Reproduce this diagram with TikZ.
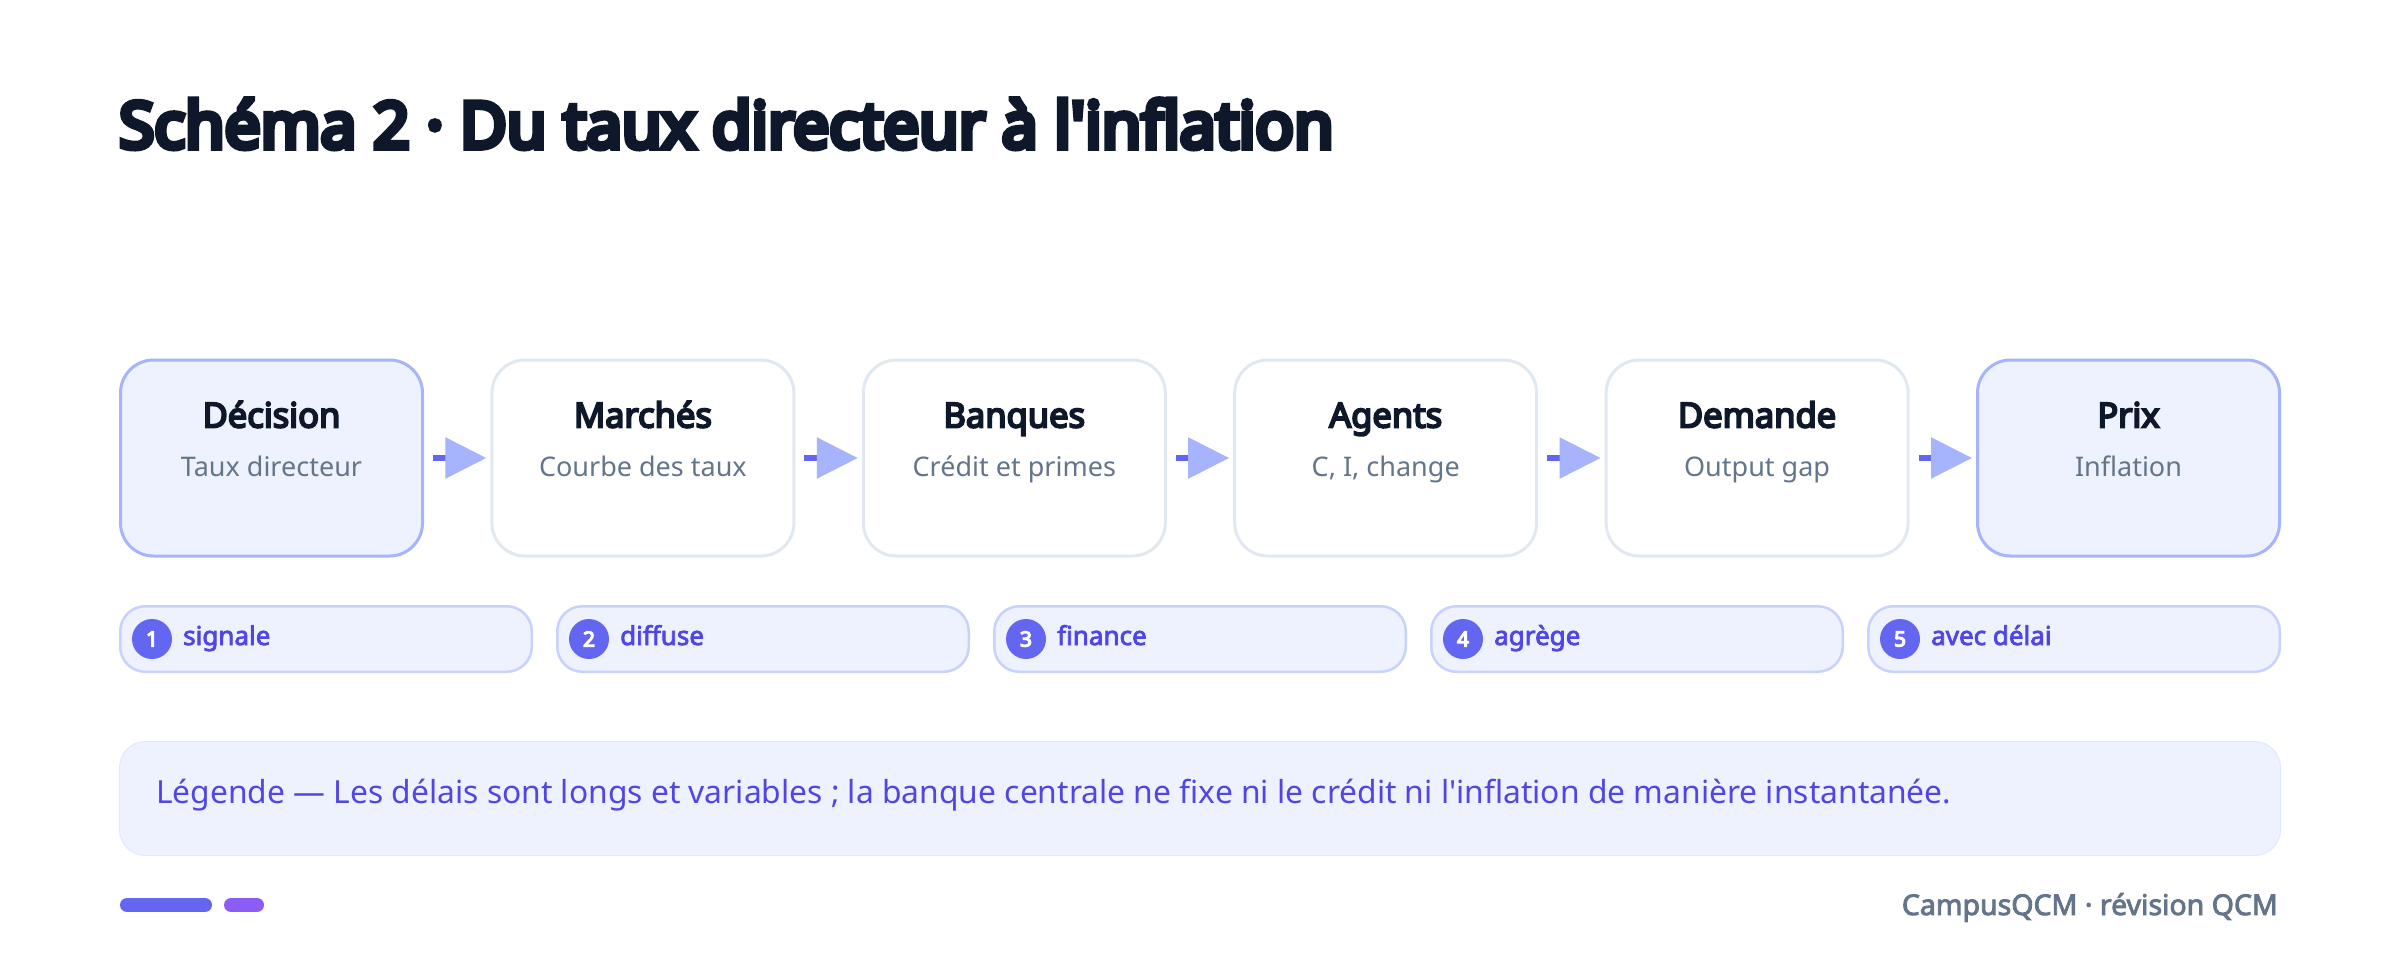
\documentclass[tikz,border=0pt]{standalone}
\usepackage{fontspec}
\setmainfont{Noto Sans}
\newfontfamily\bodyfont{Noto Sans}
\newfontfamily\headfont[FakeBold=9]{Noto Sans}
\newfontfamily\boldfont[FakeBold=5.5]{Noto Sans}
\newfontfamily\semifont[FakeBold=3]{Noto Sans}
\usetikzlibrary{positioning}
\usetikzlibrary{arrows.meta}
\definecolor{inkC}{HTML}{0F172A}
\definecolor{slateC}{HTML}{64748B}
\definecolor{indigoC}{HTML}{6366F1}
\definecolor{indigoTxt}{HTML}{4F46E5}
\definecolor{lavC}{HTML}{A5B4FC}
\definecolor{lavLight}{HTML}{C7D2FE}
\definecolor{paleC}{HTML}{EEF2FF}
\definecolor{grayC}{HTML}{E2E8F0}
\definecolor{purpleC}{HTML}{8B5CF6}
\tikzset{
  stage/.style={draw=grayC, line width=3pt, fill=white, rounded corners=33pt,
    minimum width=302pt, minimum height=196pt, inner sep=0pt},
  keystage/.style={stage, draw=lavC, fill=paleC},
  stagetitle/.style={font=\boldfont\fontsize{34.5}{40}\selectfont, text=inkC, inner sep=0pt},
  stagesub/.style={font=\bodyfont\fontsize{27}{32}\selectfont, text=slateC, inner sep=0pt},
  flow/.style={indigoC, line width=5.5pt, shorten >=4pt,
    -{Triangle[length=41pt,width=40pt,color=lavC]}},
  pill/.style={draw=lavLight, line width=2.5pt, fill=paleC, rounded corners=25pt,
    minimum width=411.5pt, minimum height=65.5pt, inner sep=0pt},
  num/.style={circle, fill=indigoC, minimum size=40pt, inner sep=0pt,
    font=\boldfont\fontsize{21}{24}\selectfont, text=white},
  pilltxt/.style={font=\semifont\fontsize{26}{30}\selectfont, text=indigoTxt, inner sep=0pt, anchor=base west}
}
\begin{document}
\begin{tikzpicture}[x=1pt,y=-1pt]
  \useasboundingbox[fill=white] (0,0) rectangle (2400,966);
  % title
  \node[anchor=base west, inner sep=0pt, text=inkC,
    font=\headfont\fontsize{64}{72}\selectfont] (title) at (119,148)
    {Schéma 2 · Du taux directeur à l'inflation};

  % chain of stages
  \node[keystage] (dec) at (271.5,458) {};
  \node[stage, right=66.4pt of dec] (mar) {};
  \node[stage, right=66.4pt of mar] (ban) {};
  \node[stage, right=66.4pt of ban] (age) {};
  \node[stage, right=66.4pt of age] (dem) {};
  \node[keystage, right=66.4pt of dem] (pri) {};

  \node[stagetitle, anchor=base] at ([yshift=-69pt]dec.north) {Décision};
  \node[stagesub, anchor=base] at ([yshift=-118pt]dec.north) {Taux directeur};
  \node[stagetitle, anchor=base] at ([yshift=-69pt]mar.north) {Marchés};
  \node[stagesub, anchor=base] at ([yshift=-118pt]mar.north) {Courbe des taux};
  \node[stagetitle, anchor=base] at ([yshift=-69pt]ban.north) {Banques};
  \node[stagesub, anchor=base] at ([yshift=-118pt]ban.north) {Crédit et primes};
  \node[stagetitle, anchor=base] at ([yshift=-69pt]age.north) {Agents};
  \node[stagesub, anchor=base] at ([yshift=-118pt]age.north) {C, I, change};
  \node[stagetitle, anchor=base] at ([yshift=-69pt]dem.north) {Demande};
  \node[stagesub, anchor=base] at ([yshift=-118pt]dem.north) {Output gap};
  \node[stagetitle, anchor=base] at ([yshift=-69pt]pri.north) {Prix};
  \node[stagesub, anchor=base] at ([yshift=-118pt]pri.north) {Inflation};

  \draw[flow] ([xshift=9pt]dec.east) -- (mar.west);
  \draw[flow] ([xshift=9pt]mar.east) -- (ban.west);
  \draw[flow] ([xshift=9pt]ban.east) -- (age.west);
  \draw[flow] ([xshift=9pt]age.east) -- (dem.west);
  \draw[flow] ([xshift=9pt]dem.east) -- (pri.west);

  % steps
  \node[pill] (p1) at (326,639) {};
  \node[pill, right=23pt of p1] (p2) {};
  \node[pill, right=23pt of p2] (p3) {};
  \node[pill, right=23pt of p3] (p4) {};
  \node[pill, right=23pt of p4] (p5) {};

  \node[num] (n1) at ([xshift=33pt]p1.west) {1};
  \node[num] (n2) at ([xshift=33pt]p2.west) {2};
  \node[num] (n3) at ([xshift=33pt]p3.west) {3};
  \node[num] (n4) at ([xshift=33pt]p4.west) {4};
  \node[num] (n5) at ([xshift=33pt]p5.west) {5};

  \node[pilltxt] at ([xshift=64pt,yshift=-6pt]p1.west) {signale};
  \node[pilltxt] at ([xshift=64pt,yshift=-6pt]p2.west) {diffuse};
  \node[pilltxt] at ([xshift=64pt,yshift=-6pt]p3.west) {finance};
  \node[pilltxt] at ([xshift=64pt,yshift=-6pt]p4.west) {agrège};
  \node[pilltxt] at ([xshift=64pt,yshift=-6pt]p5.west) {avec délai};

  % legend
  \node[fill=paleC, draw=paleC!70!lavLight, line width=1pt, rounded corners=26pt,
    minimum width=2161pt, minimum height=114pt, inner sep=0pt] (leg) at (1200,798.5) {};
  \node[anchor=base west, inner sep=0pt, text=indigoTxt, font=\bodyfont\fontsize{31.8}{36}\selectfont]
    at (156,803) {Légende — Les délais sont longs et variables ; la banque centrale ne fixe ni le crédit ni l'inflation de manière instantanée.};

  % footer
  \draw[indigoC, line width=14pt, line cap=round] (127,905) -- (205,905);
  \draw[purpleC, line width=14pt, line cap=round] (231,905) -- (257,905);
  \node[anchor=base east, inner sep=0pt, text=slateC, font=\semifont\fontsize{28.5}{32}\selectfont]
    (foot) at (2278,915) {CampusQCM · révision QCM};
\end{tikzpicture}
\end{document}
